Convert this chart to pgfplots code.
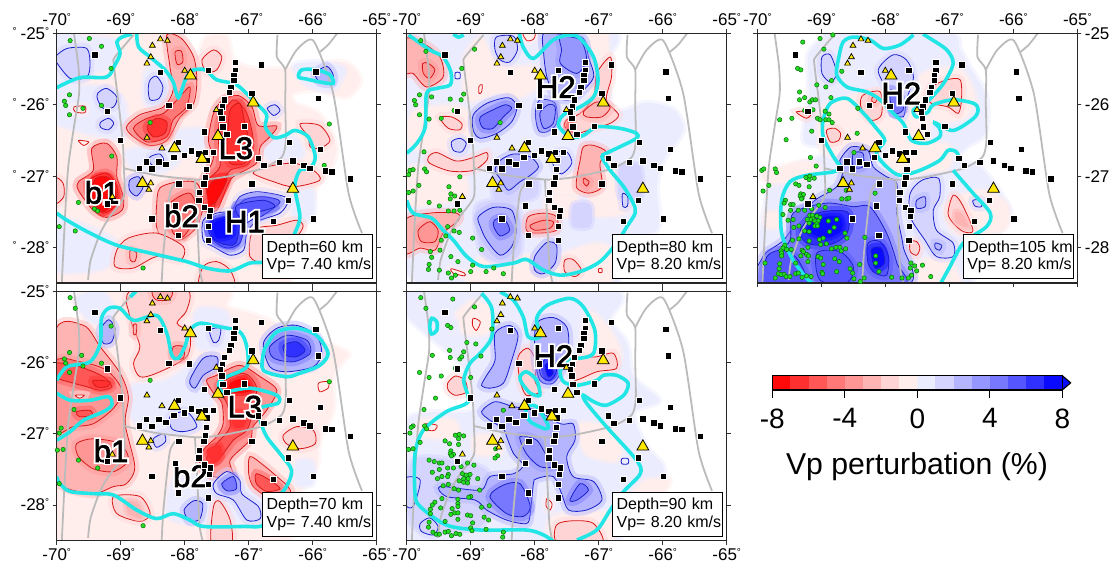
\documentclass[border=0pt]{standalone}
\usepackage{fontspec}
\usepackage{pgfplots}
\pgfplotsset{compat=1.18}
\setmainfont{Liberation Sans}
\newfontface\lblW{Liberation Sans}[FakeBold=14]
\newfontface\lblK{Liberation Sans}[FakeBold=2.2]
\definecolor{R1}{HTML}{FFEEEC}\definecolor{R2}{HTML}{FFD4D4}\definecolor{R3}{HTML}{FFB4B4}\definecolor{R4}{HTML}{FF9696}
\definecolor{R5}{HTML}{FF7878}\definecolor{R6}{HTML}{FF5656}\definecolor{R7}{HTML}{FF3030}\definecolor{R8}{HTML}{FF0A0A}
\definecolor{B1}{HTML}{ECECFF}\definecolor{B2}{HTML}{D4D4FF}\definecolor{B3}{HTML}{B4B4FF}\definecolor{B4}{HTML}{9696FF}
\definecolor{B5}{HTML}{7878FF}\definecolor{B6}{HTML}{5656FF}\definecolor{B7}{HTML}{3030FF}\definecolor{B8}{HTML}{0A0AFF}
\definecolor{conR}{HTML}{D81818}\definecolor{conB}{HTML}{1A22C8}
\definecolor{cyanl}{HTML}{22E6E6}\definecolor{grayl}{HTML}{BBBBBB}
\definecolor{qg}{HTML}{22DD22}\definecolor{qgd}{HTML}{0A6A0A}\definecolor{volc}{HTML}{FFE800}
\newcommand{\tnt}[2]{\addplot[smooth cycle,fill=#1,draw=#1,draw opacity=.5,line width=6pt] coordinates {#2};}
\newcommand{\rdc}[2]{\addplot[smooth cycle,draw=#1,draw opacity=.45,line width=9pt] coordinates {#2};\addplot[smooth cycle,draw=conR,line width=.8pt,fill=#1] coordinates {#2};}
\newcommand{\blc}[2]{\addplot[smooth cycle,draw=#1,draw opacity=.45,line width=9pt] coordinates {#2};\addplot[smooth cycle,draw=conB,line width=.8pt,fill=#1] coordinates {#2};}
\newcommand{\cyo}[1]{\addplot[smooth,draw=cyanl,line width=3.6pt] coordinates {#1};}
\newcommand{\cyc}[1]{\addplot[smooth cycle,draw=cyanl,line width=3.6pt] coordinates {#1};}
\newcommand{\gl}[1]{\addplot[smooth,tension=.4,draw=grayl,line width=1.8pt] coordinates {#1};}
\newcommand{\quakes}[1]{\addplot[only marks,mark=*,mark size=2.2pt,mark options={fill=qg,draw=qgd,line width=.5pt}] coordinates {#1};}
\newcommand{\dg}{\raisebox{5pt}{\fontsize{10pt}{10pt}\selectfont °}}
\newcommand{\commonlayer}{%
\gl{(-69.73,-25)(-69.66,-25.47)(-69.65,-25.84)(-69.73,-26.31)(-69.82,-26.87)(-69.87,-27.57)(-69.92,-28.5)}
\gl{(-68.80,-25.02)(-69.09,-25.33)(-69.11,-25.42)(-69.04,-25.93)(-68.97,-26.50)(-68.95,-26.89)(-68.95,-27.29)(-69.17,-27.57)(-69.32,-27.80)(-69.47,-28.18)(-69.51,-28.46)}
\gl{(-68.95,-26.89)(-68.44,-26.99)(-67.81,-27.05)(-67.5,-27.03)(-67.24,-26.99)(-66.77,-26.89)(-66.48,-26.73)(-66.42,-26.50)(-66.43,-25.98)(-66.43,-25.51)(-66.56,-25.33)(-66.55,-25.02)}
\gl{(-66.43,-25.51)(-66.25,-25.23)(-65.99,-25.10)(-65.68,-25.84)(-65.44,-27.24)(-65.23,-27.80)}
\gl{(-65.89,-25.26)(-65.76,-25.16)(-65.62,-25.0)}
\gl{(-68.09,-27.06)(-68.23,-27.24)(-68.33,-28.04)(-68.36,-28.5)}
\gl{(-67.84,-27.05)(-67.81,-27.52)(-67.77,-28.27)(-67.72,-28.5)}
}
\newcommand{\toplayer}{%
\addplot[only marks,mark=square*,mark size=3.2pt,mark options={fill=black,draw=white,line width=.9pt}] coordinates {
(-69.40,-25.30)(-68.38,-25.55)(-67.63,-25.52)(-66.80,-25.44)(-67.21,-25.41)(-67.21,-25.52)(-67.23,-25.59)(-67.23,-25.66)(-67.28,-25.76)(-67.30,-25.83)(-67.375,-25.93)(-66.95,-25.84)(-65.91,-25.91)(-65.95,-25.54)(-68.245,-26.01)(-67.93,-26.02)(-67.41,-26.03)(-67.44,-26.10)(-67.42,-26.19)(-69.21,-26.09)(-67.40,-26.31)(-67.07,-26.30)(-67.69,-26.38)(-67.34,-26.42)(-69.0,-26.50)(-66.36,-26.53)(-65.875,-26.63)(-68.10,-26.53)(-67.89,-26.65)(-68.0,-26.71)(-67.78,-26.69)(-67.68,-26.67)(-67.55,-26.67)(-68.17,-26.74)(-67.65,-26.78)(-68.29,-26.84)(-68.40,-26.80)(-68.60,-26.80)(-68.51,-26.90)(-68.71,-26.89)(-67.66,-26.91)(-66.85,-26.75)(-66.76,-26.855)(-66.52,-26.81)(-66.31,-26.79)(-66.135,-26.85)(-66.04,-26.89)(-65.80,-26.93)(-65.70,-26.94)(-65.41,-27.04)(-66.95,-27.11)(-68.09,-27.11)(-67.70,-27.11)(-67.68,-27.02)(-67.77,-27.23)(-67.78,-27.34)(-66.375,-27.34)(-69.21,-27.39)(-68.14,-27.42)(-67.69,-27.44)(-67.60,-27.48)(-67.61,-27.57)(-68.51,-27.60)(-65.99,-27.60)(-66.61,-27.64)(-67.625,-27.71)(-68.10,-27.83)(-67.63,-27.90)};
\addplot[only marks,mark=triangle*,mark size=3.4pt,mark options={fill=volc,draw=black,line width=.7pt}] coordinates {
(-68.505,-25.17)(-68.38,-25.08)(-68.27,-25.10)(-68.53,-25.33)(-68.59,-25.42)(-68.0,-25.52)(-67.505,-26.07)(-68.59,-26.46)(-68.355,-26.61)(-68.53,-27.10)(-68.56,-27.19)(-69.13,-27.29)};
\addplot[only marks,mark=triangle*,mark size=6.8pt,mark options={fill=volc,draw=black,line width=.8pt}] coordinates {
(-67.91,-25.59)(-66.93,-25.97)(-67.48,-26.44)(-68.16,-26.61)(-67.73,-26.76)(-68.66,-27.10)(-66.31,-27.18)};
}
\newcommand{\infobox}[2]{\node[draw=black,fill=white,line width=1pt,anchor=south west,inner sep=0pt,minimum width=110pt,minimum height=44pt,align=left,text width=110pt,font=\fontsize{16pt}{17.7pt}\selectfont] at (axis cs:-66.79,-28.45) {\hspace*{4pt}Depth=#1 km\\\hspace*{4pt}Vp= #2 km/s};}
\newcommand{\lab}[2]{\node[text=white,font=\fontsize{31pt}{31pt}\lblW,inner sep=0pt] at (axis cs:#1) {#2};\node[text=black,font=\fontsize{31pt}{31pt}\lblK,inner sep=0pt] at (axis cs:#1) {#2};}
\pgfplotsset{mapax/.style={scale only axis,width=320pt,height=249.5pt,xmin=-70,xmax=-65,ymin=-28.5,ymax=-25,
 xtick={-70,-69,-68,-67,-66,-65},ytick={-28,-27,-26,-25},tick align=outside,major tick length=4pt,
 tick style={black!80,line width=.8pt},axis line style={black!85,line width=1.2pt},axis on top,
 ticklabel style={font=\fontsize{17pt}{17pt}\selectfont},
 xticklabels={-70\dg,-69\dg,-68\dg,-67\dg,-66\dg,-65\dg},
 xticklabel shift=0pt,yticklabel shift=0pt,
 }}
\begin{document}
\begin{tikzpicture}[x=1pt,y=1pt]
\path[use as bounding box] (0,0) rectangle (1115,567);
%% PANEL 1
\begin{axis}[mapax,at={(56.7pt,284pt)},anchor=south west,xticklabel pos=upper,yticklabel pos=left,
 yticklabels={{\dg\hspace{4pt}-28\dg},{\dg\hspace{4pt}-27\dg},{\dg\hspace{4pt}-26\dg},{\dg\hspace{4pt}-25\dg}}]
\tnt{R1}{(-70.2,-24.95)(-68.25,-24.95)(-68.07,-25.19)(-67.81,-25.33)(-67.66,-25.05)(-67.34,-25.05)(-67.24,-25.37)(-66.93,-25.49)(-66.3,-25.49)(-65.52,-25.4)(-65.26,-25.65)(-65.47,-25.89)(-65.94,-25.79)(-66.3,-25.84)(-66.28,-25.98)(-65.89,-26.14)(-65.63,-26.59)(-65.76,-26.96)(-65.94,-27.15)(-66.04,-27.52)(-66.2,-27.8)(-66.56,-28.6)(-69.32,-28.6)(-70.2,-28.3)}
\tnt{B1}{(-70.1,-25.05)(-69.5,-25.05)(-69.1,-25.1)(-69.1,-25.45)(-69.4,-25.55)(-69.75,-25.7)(-70.1,-25.75)}
\tnt{B1}{(-70.1,-25.8)(-69.3,-25.75)(-68.95,-25.95)(-68.95,-26.45)(-69.5,-26.4)(-70.1,-26.2)}
\tnt{B1}{(-68.6,-25.5)(-68.3,-25.45)(-68.25,-25.9)(-68.5,-26.05)(-68.65,-25.9)}
\tnt{B1}{(-68.9,-26.65)(-68.3,-26.6)(-68.1,-26.8)(-68.4,-26.95)(-68.8,-26.9)}
\tnt{B1}{(-68.12,-26.38)(-67.7,-26.35)(-67.68,-26.6)(-68.1,-26.65)}
\tnt{B1}{(-66.7,-26.5)(-66.3,-26.45)(-66.15,-26.7)(-66.5,-26.85)(-66.75,-26.7)}
\tnt{B1}{(-66.3,-27.2)(-66.0,-27.2)(-66.0,-27.6)(-66.3,-27.6)}
\tnt{B1}{(-66.3,-25.45)(-65.9,-25.4)(-65.5,-25.5)(-65.7,-25.8)(-66.1,-25.72)}
\tnt{B1}{(-70.1,-27.6)(-69.4,-27.75)(-69.0,-28.0)(-69.3,-28.3)(-70.1,-28.3)}
\rdc{R4}{(-67.55,-26.12)(-67.4,-25.93)(-67.16,-25.87)(-66.95,-26.03)(-66.85,-26.29)(-66.56,-26.3)(-66.67,-26.45)(-66.82,-26.59)(-66.88,-26.82)(-67.24,-27.01)(-67.34,-27.15)(-67.5,-27.48)(-67.71,-27.48)(-67.76,-27.15)(-67.63,-26.92)(-67.55,-26.73)(-67.63,-26.5)}
\rdc{R2}{(-66.72,-26.87)(-66.3,-26.82)(-65.99,-26.92)(-65.89,-27.06)(-66.3,-27.15)(-66.61,-27.08)(-66.93,-26.96)}
\rdc{R6}{(-67.45,-26.21)(-67.24,-25.93)(-67.03,-26.12)(-66.93,-26.5)(-67.0,-26.82)(-67.29,-26.92)(-67.4,-27.1)(-67.55,-27.43)(-67.68,-27.38)(-67.63,-27.06)(-67.45,-26.87)(-67.47,-26.54)}
\rdc{R7}{(-67.29,-26.07)(-67.14,-25.98)(-67.06,-26.26)(-66.98,-26.59)(-67.06,-26.82)(-67.29,-26.82)(-67.34,-26.59)(-67.32,-26.31)}
\rdc{R8}{(-67.55,-27.06)(-67.34,-27.03)(-67.5,-27.34)(-67.66,-27.43)(-67.66,-27.24)}
\rdc{R2}{(-66.2,-26.27)(-65.89,-26.29)(-65.73,-26.5)(-65.89,-26.61)(-66.04,-26.59)(-66.07,-26.45)}
\rdc{R3}{(-68.28,-25.02)(-68.05,-25.07)(-67.86,-25.33)(-67.81,-25.65)(-67.86,-25.98)(-68.07,-26.17)(-68.28,-26.5)(-68.54,-26.57)(-68.8,-26.45)(-68.91,-26.31)(-68.7,-26.14)(-68.33,-26.03)(-68.18,-25.79)(-68.23,-25.47)}
\rdc{R5}{(-68.12,-25.93)(-67.92,-25.75)(-67.97,-26.03)(-68.18,-26.21)(-68.28,-26.45)(-68.59,-26.52)(-68.8,-26.33)(-68.59,-26.19)(-68.33,-26.12)}
\rdc{R7}{(-68.59,-26.31)(-68.44,-26.19)(-68.28,-26.24)(-68.31,-26.4)(-68.49,-26.45)}
\rdc{R4}{(-68.15,-25.26)(-68.05,-25.25)(-68.03,-25.4)(-68.12,-25.43)}
\rdc{R2}{(-67.55,-25.23)(-67.42,-25.33)(-67.5,-25.51)(-67.66,-25.54)(-67.73,-25.37)}
\rdc{R4}{(-69.45,-26.61)(-69.22,-26.54)(-69.06,-26.73)(-69.06,-27.01)(-68.96,-27.29)(-68.98,-27.48)(-69.22,-27.58)(-69.43,-27.48)(-69.66,-27.2)(-69.66,-27.08)(-69.43,-26.92)}
\rdc{R6}{(-69.5,-27.06)(-69.22,-26.96)(-69.06,-27.15)(-69.06,-27.38)(-69.27,-27.52)(-69.48,-27.29)}
\rdc{R8}{(-69.4,-27.04)(-69.19,-27.02)(-69.07,-27.29)(-69.27,-27.5)(-69.45,-27.29)}
\rdc{R3}{(-68.39,-27.17)(-68.1,-27.08)(-67.81,-27.1)(-67.71,-27.38)(-67.81,-27.71)(-68.07,-27.9)(-68.33,-27.9)(-68.44,-27.71)(-68.44,-27.43)}
\rdc{R5}{(-68.23,-27.38)(-67.92,-27.24)(-67.81,-27.52)(-68.02,-27.85)(-68.18,-27.8)(-68.23,-27.57)}
\rdc{R2}{(-68.88,-27.87)(-68.44,-27.8)(-68.02,-27.99)(-68.07,-28.18)(-68.44,-28.13)(-68.8,-28.29)(-69.09,-28.27)(-69.06,-28.04)}
\rdc{R3}{(-68.85,-28.04)(-68.75,-28.08)(-68.78,-28.2)(-68.85,-28.18)}
\rdc{R2}{(-67.71,-28.27)(-67.5,-28.2)(-67.29,-28.32)(-67.24,-28.55)(-67.76,-28.55)}
\rdc{R2}{(-66.93,-27.76)(-66.56,-27.69)(-66.25,-27.62)(-66.15,-27.71)(-66.3,-27.9)(-66.72,-28.2)(-66.98,-28.13)}
\rdc{R2}{(-70.03,-27.03)(-69.9,-27.1)(-69.89,-27.29)(-70.03,-27.38)}
\rdc{R1}{(-69.66,-26.5)(-69.5,-26.52)(-69.58,-26.57)}
\rdc{R1}{(-69.73,-26.03)(-69.56,-26.02)(-69.56,-26.11)(-69.71,-26.1)}
\blc{B2}{(-67.71,-27.62)(-67.5,-27.52)(-67.27,-27.48)(-67.14,-27.29)(-66.88,-27.22)(-66.51,-27.27)(-66.38,-27.34)(-66.51,-27.52)(-66.88,-27.64)(-67.03,-27.8)(-67.08,-28.04)(-67.29,-28.11)(-67.55,-27.99)(-67.71,-27.9)}
\blc{B5}{(-67.63,-27.66)(-67.29,-27.55)(-67.08,-27.34)(-66.77,-27.29)(-66.51,-27.36)(-66.77,-27.55)(-67.03,-27.66)(-67.14,-27.94)(-67.34,-28.01)(-67.55,-27.9)}
\blc{B7}{(-67.58,-27.64)(-67.34,-27.57)(-67.14,-27.5)(-67.2,-27.94)(-67.45,-27.94)(-67.62,-27.8)}
\tnt{B8}{(-67.55,-27.66)(-67.29,-27.6)(-67.25,-27.82)(-67.5,-27.87)}
\blc{B6}{(-67.19,-27.41)(-66.77,-27.34)(-66.59,-27.43)(-66.93,-27.52)(-67.14,-27.57)}
\blc{B2}{(-70.03,-25.33)(-69.84,-25.21)(-69.53,-25.21)(-69.48,-25.44)(-69.53,-25.61)(-69.79,-25.63)(-70.03,-25.37)}
\blc{B2}{(-69.36,-25.84)(-69.22,-25.77)(-69.06,-25.89)(-69.11,-26.03)(-69.27,-26.05)(-69.36,-25.93)}
\blc{B2}{(-69.32,-26.25)(-69.19,-26.19)(-69.11,-26.26)(-69.19,-26.35)(-69.31,-26.32)}
\blc{B2}{(-68.54,-25.65)(-68.44,-25.6)(-68.34,-25.75)(-68.4,-25.91)(-68.54,-25.93)(-68.57,-25.77)}
\blc{B2}{(-68.54,-26.73)(-68.39,-26.69)(-68.33,-26.78)(-68.46,-26.86)(-68.54,-26.82)}
\blc{B3}{(-68.86,-27.06)(-68.72,-27.01)(-68.65,-27.15)(-68.75,-27.28)(-68.86,-27.2)}
\blc{B2}{(-66.71,-26.05)(-66.59,-26.0)(-66.51,-26.08)(-66.61,-26.15)}
\blc{B3}{(-65.96,-25.56)(-65.78,-25.46)(-65.68,-25.58)(-65.7,-25.7)(-65.89,-25.68)}
\commonlayer
\cyo{(-70,-25.76)(-69.64,-25.62)(-69.22,-25.61)(-69.09,-25.44)(-69.01,-25.28)(-69.06,-25.12)(-68.98,-25.05)(-68.83,-25.01)}
\cyo{(-68.75,-25.0)(-68.72,-25.19)(-68.54,-25.33)(-68.31,-25.51)(-68.18,-25.68)(-68.10,-25.90)(-67.99,-25.65)(-67.89,-25.52)(-67.68,-25.51)(-67.5,-25.65)(-67.19,-25.72)(-66.88,-25.98)(-66.72,-26.14)(-66.74,-26.31)(-66.61,-26.46)(-66.43,-26.43)(-66.28,-26.36)(-66.07,-26.45)(-65.96,-26.73)(-66.04,-26.89)(-66.2,-26.92)(-66.28,-27.15)(-66.2,-27.57)(-66.28,-27.80)(-66.41,-28.04)(-66.72,-28.20)(-66.98,-28.22)(-67.29,-28.33)(-67.66,-28.29)(-67.97,-28.2)(-68.54,-28.08)(-69.06,-27.97)(-69.48,-27.80)(-69.84,-27.62)(-70,-27.52)}
\cyc{(-66.22,-25.61)(-66.17,-25.51)(-65.94,-25.51)(-65.73,-25.58)(-65.68,-25.70)(-65.89,-25.68)(-66.09,-25.64)}
\quakes{(-69.79,-25.10)(-69.49,-25.07)(-69.30,-25.18)(-69.15,-25.49)(-69.80,-25.86)(-69.88,-25.95)(-69.86,-26.01)(-69.80,-26.14)(-69.59,-26.05)(-69.30,-26.01)(-68.54,-26.25)(-69.14,-26.72)(-65.74,-26.27)(-65.82,-26.85)(-69.66,-27.37)(-69.41,-27.46)(-69.36,-27.49)(-69.96,-27.71)(-69.71,-27.77)(-68.65,-28.29)}
\toplayer
\lab{-69.29,-27.23}{b1}\lab{-67.2,-26.61}{L3}\lab{-67.06,-27.64}{H1}\lab{-68.05,-27.56}{b2}
\infobox{60}{7.40}
\end{axis}
%% PANEL 2
\begin{axis}[mapax,at={(406.7pt,284pt)},anchor=south west,xticklabel pos=upper,yticklabels={}]
\tnt{B1}{(-70.1,-24.95)(-66.88,-24.95)(-66.88,-25.4)(-66.82,-26.03)(-66.93,-26.14)(-66.56,-26.07)(-66.25,-25.97)(-65.83,-26.07)(-65.68,-26.36)(-65.99,-26.78)(-66.09,-27.15)(-66.09,-27.76)(-66.77,-27.9)(-66.82,-28.55)(-69.38,-28.55)(-70.1,-28.06)}
\tnt{R1}{(-69.11,-25.37)(-68.85,-25.05)(-68.65,-25.33)(-68.33,-25.47)(-68.02,-25.47)(-67.92,-25.7)(-68.23,-25.89)(-68.59,-25.84)(-69.06,-25.93)}
\tnt{R1}{(-67.6,-28.13)(-67.0,-27.95)(-66.8,-28.1)(-66.85,-28.55)(-67.6,-28.55)}
\tnt{R1}{(-68.85,-28.15)(-67.9,-28.15)(-67.8,-28.55)(-69.0,-28.55)}
\tnt{R1}{(-67.1,-27.25)(-66.6,-27.2)(-66.55,-27.5)(-67.1,-27.55)}
\tnt{R1}{(-67.65,-27.0)(-66.6,-26.95)(-66.5,-27.15)(-67.65,-27.25)}
\tnt{R1}{(-67.8,-27.3)(-67.35,-27.3)(-67.35,-27.55)(-67.8,-27.55)}
\tnt{R1}{(-69.9,-26.1)(-69.1,-26.05)(-69.1,-26.6)(-69.9,-26.6)}
\tnt{R1}{(-70.05,-26.9)(-69.2,-26.9)(-69.1,-27.3)(-70.05,-27.4)}
\tnt{R1}{(-67.15,-24.95)(-66.88,-24.95)(-66.85,-25.8)(-67.1,-26.05)}
\tnt{B2}{(-68.91,-27.43)(-68.44,-27.34)(-68.23,-27.52)(-68.23,-28.08)(-68.54,-28.22)(-68.85,-28.04)}
\tnt{B2}{(-67.4,-27.4)(-67.13,-27.4)(-67.13,-27.7)(-67.4,-27.7)}
\tnt{B2}{(-66.67,-26.87)(-66.35,-26.87)(-66.35,-27.3)(-66.67,-27.3)}
\tnt{B2}{(-68.6,-27.0)(-68,-27.0)(-68,-27.3)(-68.6,-27.35)}
\rdc{R3}{(-70.03,-25.08)(-69.74,-25.14)(-69.48,-25.33)(-69.43,-25.61)(-69.69,-25.75)(-69.9,-25.56)(-70.03,-25.54)}
\rdc{R4}{(-69.75,-25.42)(-69.66,-25.42)(-69.56,-25.51)(-69.64,-25.63)(-69.74,-25.56)}
\rdc{R2}{(-66.82,-25.33)(-66.8,-25.61)(-66.88,-25.93)(-66.69,-26.14)(-66.82,-26.26)(-67.08,-26.33)(-67.34,-26.4)(-67.53,-26.31)(-67.5,-26.21)(-67.29,-26.12)(-67.08,-25.89)(-67.03,-25.56)}
\rdc{R3}{(-67.24,-26.1)(-67.03,-25.96)(-66.82,-26.03)(-66.95,-26.17)(-67.19,-26.17)}
\tnt{R5}{(-67.5,-26.25)(-67.4,-26.22)(-67.4,-26.38)(-67.5,-26.36)}
\rdc{R3}{(-67.24,-26.59)(-67.08,-26.57)(-66.88,-26.66)(-66.98,-26.82)(-66.95,-27.15)(-67.16,-27.24)(-67.34,-27.17)(-67.34,-27.01)(-67.29,-26.78)}
\rdc{R4}{(-67.23,-27.03)(-67.15,-27.08)(-67.19,-27.14)(-67.24,-27.09)}
\rdc{R2}{(-69.66,-26.73)(-69.53,-26.67)(-69.22,-26.79)(-68.93,-26.73)(-68.75,-26.67)(-68.75,-26.78)(-68.96,-26.92)(-69.32,-26.93)(-69.64,-26.82)}
\rdc{R2}{(-69.48,-26.18)(-69.3,-26.17)(-69.14,-26.26)(-69.17,-26.35)(-69.35,-26.33)}
\rdc{R3}{(-70.03,-27.62)(-69.64,-27.52)(-69.22,-27.52)(-69.19,-27.62)(-69.43,-27.8)(-69.56,-28.04)(-69.79,-28.01)(-70.03,-28.08)}
\rdc{R4}{(-69.82,-27.76)(-69.64,-27.64)(-69.51,-27.76)(-69.56,-27.92)(-69.77,-27.92)}
\rdc{R3}{(-68.1,-27.57)(-67.86,-27.52)(-67.66,-27.57)(-67.66,-27.76)(-67.97,-27.8)(-68.13,-27.76)}
\rdc{R4}{(-68.07,-27.69)(-67.86,-27.62)(-67.71,-27.64)(-67.76,-27.73)(-68.0,-27.76)}
\rdc{R2}{(-67.53,-28.18)(-67.4,-28.17)(-67.27,-28.32)(-67.37,-28.41)(-67.53,-28.34)}
\rdc{R1}{(-67.0,-28.3)(-66.95,-28.3)(-66.95,-28.35)(-67.0,-28.35)}
\rdc{R1}{(-69.3,-28.3)(-69.1,-28.36)(-69.1,-28.4)(-69.28,-28.36)}
\rdc{R1}{(-68.87,-25.74)(-68.82,-25.72)(-68.83,-25.82)(-68.87,-25.84)}
\rdc{R1}{(-68.18,-25.0)(-68.0,-25.0)(-68.02,-25.08)(-68.12,-25.1)}
\blc{B3}{(-67.86,-25)(-67.55,-25.02)(-67.24,-25.07)(-67.16,-25.33)(-67.08,-25.61)(-67.29,-25.84)(-67.45,-25.93)(-67.68,-25.89)(-67.81,-25.61)(-67.86,-25.28)}
\blc{B4}{(-67.6,-25.05)(-67.29,-25.09)(-67.19,-25.37)(-67.34,-25.56)(-67.6,-25.42)(-67.58,-25.23)}
\blc{B3}{(-67.99,-26.12)(-67.92,-25.93)(-67.68,-25.98)(-67.66,-26.26)(-67.81,-26.38)(-67.94,-26.36)}
\blc{B4}{(-67.92,-26.12)(-67.79,-26)(-67.68,-26.03)(-67.71,-26.26)(-67.86,-26.33)}
\blc{B2}{(-68.6,-25.05)(-68.33,-25.04)(-68.27,-25.23)(-68.39,-25.4)(-68.54,-25.37)(-68.62,-25.23)}
\blc{B3}{(-68.96,-26.14)(-68.75,-25.98)(-68.41,-25.9)(-68.28,-26.03)(-68.36,-26.24)(-68.59,-26.4)(-68.85,-26.47)(-68.96,-26.36)}
\blc{B5}{(-68.85,-26.17)(-68.65,-26.07)(-68.46,-26)(-68.36,-26.05)(-68.49,-26.17)(-68.65,-26.33)(-68.8,-26.33)(-68.85,-26.26)}
\blc{B2}{(-69.3,-26.52)(-69.17,-26.47)(-69.07,-26.54)(-69.14,-26.66)(-69.27,-26.64)}
\blc{B1}{(-69.24,-25.55)(-69.17,-25.55)(-69.17,-25.63)(-69.24,-25.63)}
\blc{B3}{(-68.54,-26.78)(-68.33,-26.69)(-68.07,-26.73)(-67.94,-26.87)(-68.07,-26.99)(-68.23,-27.08)(-68.41,-27.2)(-68.52,-27.06)(-68.62,-26.92)}
\blc{B2}{(-67.68,-26.68)(-67.5,-26.66)(-67.42,-26.82)(-67.58,-26.97)(-67.71,-26.85)}
\blc{B3}{(-68.88,-27.57)(-68.65,-27.44)(-68.36,-27.48)(-68.29,-27.76)(-68.36,-27.99)(-68.54,-28.11)(-68.75,-27.9)(-68.85,-27.71)}
\blc{B5}{(-68.63,-27.62)(-68.49,-27.59)(-68.39,-27.76)(-68.54,-27.84)(-68.64,-27.71)}
\blc{B3}{(-68,-28.13)(-67.81,-27.93)(-67.66,-27.97)(-67.68,-28.22)(-67.86,-28.37)(-68,-28.32)}
\blc{B2}{(-66.63,-27.25)(-66.55,-27.28)(-66.55,-27.42)(-66.62,-27.43)}
\commonlayer
\cyo{(-69.97,-25.02)(-69.64,-25.23)(-69.43,-25.33)(-69.31,-25.54)(-69.32,-25.72)(-69.53,-25.77)(-69.69,-25.84)(-69.71,-26.31)(-69.84,-26.54)(-70,-26.68)}
\cyo{(-69.27,-25.01)(-69.19,-25.05)(-69.11,-25.02)}
\cyo{(-70,-27.34)(-69.9,-27.52)(-69.61,-27.59)(-69.43,-27.76)(-69.27,-27.9)(-69.06,-28.13)(-68.8,-28.27)(-68.33,-28.22)(-68.13,-28.17)(-67.86,-28.32)(-67.6,-28.39)(-67.29,-28.34)(-66.98,-28.2)(-66.72,-27.94)(-66.56,-27.71)(-66.43,-27.52)(-66.46,-27.38)(-66.61,-27.15)(-66.82,-26.92)(-66.95,-26.73)(-66.88,-26.68)(-66.67,-26.59)(-66.41,-26.47)(-66.41,-26.4)(-66.67,-26.33)(-67.03,-26.31)(-67.24,-26.43)(-67.45,-26.45)(-67.63,-26.29)(-67.55,-26.14)(-67.29,-26.03)(-67.08,-25.89)(-67.01,-25.65)(-67.08,-25.33)(-67.29,-25.07)(-67.45,-25.02)(-67.71,-25.09)(-68.02,-25.35)(-68.18,-25.19)(-68.24,-25)}
\quakes{(-69.78,-25.10)(-69.70,-25.25)(-68.94,-25.22)(-69.14,-25.49)(-69.88,-25.94)(-69.80,-25.86)(-69.86,-26.00)(-69.61,-25.89)(-69.80,-26.14)(-69.65,-26.20)(-69.46,-26.19)(-69.32,-25.92)(-69.15,-25.93)(-69.11,-25.85)(-69.26,-26.08)(-68.54,-26.25)(-69.73,-26.66)(-69.95,-26.92)(-69.90,-26.91)(-69.97,-26.98)(-69.72,-26.90)(-69.69,-26.94)(-69.17,-27.01)(-69.81,-27.13)(-69.34,-27.15)(-69.97,-27.23)(-69.90,-27.21)(-69.31,-27.25)(-69.25,-27.28)(-69.32,-27.32)(-69.65,-27.37)(-69.49,-27.42)(-69.35,-27.49)(-69.26,-27.49)(-69.17,-27.48)(-69.36,-27.71)(-69.26,-27.77)(-69.18,-27.79)(-69.39,-27.84)(-69.46,-27.90)(-68.97,-27.87)(-68.83,-28.03)(-69.48,-28.04)(-69.63,-28.06)(-69.61,-28.14)(-69.65,-28.24)(-69.66,-28.31)(-69.49,-28.32)(-69.35,-28.36)(-69.30,-28.43)(-69.24,-28.39)(-69.0,-28.34)(-68.97,-28.25)(-68.76,-28.34)(-68.64,-28.29)(-68.49,-28.37)(-69.20,-28.20)(-69.31,-28.13)}
\toplayer
\lab{-67.67,-25.75}{H2}
\infobox{80}{8.20}
\end{axis}
%% PANEL 3
\begin{axis}[mapax,at={(757.3pt,284pt)},anchor=south west,xticklabel pos=upper,yticklabel pos=right,yticklabels={-28,-27,-26,-25}]
\tnt{B1}{(-69.2,-25.28)(-68.97,-25.05)(-68.81,-24.98)(-67.04,-24.98)(-66.83,-25.23)(-66.68,-25.47)(-66.42,-25.89)(-66.44,-26.4)(-66.73,-26.59)(-66.89,-26.78)(-66.52,-26.87)(-66.16,-27.29)(-66.05,-27.52)(-66.26,-27.8)(-66.78,-27.8)(-66.78,-28.55)(-69.91,-28.55)(-69.96,-28.18)(-69.96,-27.8)(-69.88,-27.43)(-69.75,-27.01)(-69.33,-26.82)(-69.02,-26.73)(-68.99,-26.59)(-69.28,-26.5)(-69.2,-25.93)(-69.2,-25.56)}
\tnt{R1}{(-69.02,-26.07)(-68.71,-25.93)(-68.08,-25.79)(-67.46,-25.98)(-67.35,-26.5)(-68.03,-26.59)(-68.71,-26.73)(-69.02,-26.59)}
\tnt{R1}{(-69.87,-27.52)(-69.66,-27.52)(-69.67,-27.71)(-69.87,-27.71)}
\tnt{R1}{(-67.48,-28.2)(-67,-28.2)(-66.85,-28.55)(-67.5,-28.55)}
\tnt{R1}{(-67.05,-27.4)(-66.5,-27.2)(-66.1,-27.4)(-66.15,-27.75)(-66.9,-27.8)}
\tnt{R1}{(-67.9,-26.6)(-67.05,-26.55)(-67.05,-26.9)(-67.9,-26.95)}
\tnt{R1}{(-69.9,-26.95)(-69.3,-26.8)(-69.05,-26.85)(-69.1,-27)(-69.8,-27.1)}
\tnt{R1}{(-67.45,-25.6)(-66.85,-25.5)(-66.6,-25.9)(-66.8,-26.2)(-67.4,-26.2)}
\rdc{R2}{(-68.34,-25.86)(-68.08,-25.82)(-68.06,-26.14)(-68.21,-26.22)(-68.34,-26.12)(-68.39,-25.98)}
\rdc{R3}{(-68.2,-25.89)(-68.12,-25.9)(-68.16,-25.97)(-68.21,-25.95)}
\rdc{R2}{(-68.92,-26.36)(-68.79,-26.33)(-68.7,-26.4)(-68.73,-26.5)(-68.86,-26.52)}
\rdc{R2}{(-67.28,-25.75)(-67.04,-25.65)(-66.83,-25.65)(-66.81,-25.93)(-66.86,-26.12)(-67.02,-26.03)(-67.28,-25.98)(-67.35,-25.89)}
\rdc{R2}{(-66.94,-27.27)(-66.81,-27.38)(-66.63,-27.76)(-66.78,-27.78)(-66.94,-27.66)(-67.02,-27.52)}
\tnt{R3}{(-66.9,-27.5)(-66.78,-27.55)(-66.7,-27.72)(-66.9,-27.65)}
\rdc{R2}{(-67.61,-27.92)(-67.51,-27.92)(-67.46,-28.01)(-67.51,-28.11)(-67.61,-28.06)}
\rdc{R2}{(-69.39,-26.1)(-69.15,-26.1)(-69.23,-26.19)}
\blc{B3}{(-68.71,-26.78)(-68.53,-26.59)(-68.27,-26.64)(-68.19,-26.87)(-67.98,-27.01)(-67.82,-27.1)(-67.82,-27.52)(-67.72,-27.99)(-67.69,-28.55)(-69.91,-28.55)(-69.91,-28.13)(-69.59,-27.9)(-69.33,-27.57)(-69.1,-27.34)(-68.76,-27.15)(-68.66,-26.92)}
\blc{B5}{(-69.44,-27.52)(-68.92,-27.38)(-68.5,-27.43)(-68.24,-27.43)(-67.98,-27.8)(-67.82,-28.22)(-67.77,-28.55)(-69.75,-28.55)(-69.75,-28.18)(-69.49,-27.9)}
\blc{B7}{(-69.33,-27.76)(-69.07,-27.52)(-68.6,-27.5)(-68.58,-27.76)(-68.71,-27.9)(-68.92,-27.97)(-69.23,-27.94)}
\tnt{B8}{(-69.23,-27.76)(-69.02,-27.59)(-68.71,-27.57)(-68.68,-27.76)(-68.92,-27.87)}
\blc{B6}{(-68.27,-27.94)(-68.08,-27.92)(-67.95,-28.13)(-67.98,-28.39)(-68.16,-28.36)(-68.27,-28.22)}
\blc{B8}{(-68.22,-28.03)(-68.06,-28.01)(-68.01,-28.22)(-68.16,-28.29)}
\blc{B6}{(-69.85,-28.13)(-69.59,-28.04)(-69.36,-28.18)(-69.23,-28.55)(-69.88,-28.55)}
\blc{B6}{(-69.07,-28.08)(-68.71,-28.06)(-68.5,-28.27)(-68.6,-28.5)(-69.02,-28.46)}
\blc{B2}{(-68.11,-25.51)(-67.88,-25.3)(-67.67,-25.37)(-67.56,-25.61)(-67.67,-25.93)(-67.72,-26.17)(-67.93,-26.07)(-67.98,-25.79)}
\blc{B5}{(-67.93,-25.79)(-67.77,-25.89)(-67.72,-26.07)(-67.88,-26.12)}
\blc{B2}{(-68.99,-25.33)(-68.86,-25.3)(-68.76,-25.56)(-68.86,-25.68)(-68.99,-25.56)}
\blc{B2}{(-67.61,-27.24)(-67.43,-27.06)(-67.17,-27.03)(-67.15,-27.29)(-67.25,-27.48)(-67.2,-27.76)(-66.94,-27.94)(-66.94,-28.13)(-67.2,-28.13)(-67.38,-27.9)(-67.61,-27.57)}
\blc{B3}{(-67.51,-27.34)(-67.38,-27.29)(-67.38,-27.43)(-67.51,-27.45)}
\blc{B3}{(-67.22,-27.94)(-67.12,-27.97)(-67.15,-28.04)(-67.22,-28.01)}
\blc{B2}{(-66.63,-27.34)(-66.5,-27.34)(-66.5,-27.43)(-66.6,-27.42)}
\blc{B4}{(-68.5,-26.68)(-68.35,-26.68)(-68.35,-26.87)(-68.5,-26.87)}
\commonlayer
\cyo{(-67.56,-25.02)(-67.77,-25.16)(-68.03,-25.21)(-68.24,-25.09)(-68.5,-25.05)(-68.66,-25.12)(-68.73,-25.35)(-68.76,-25.58)(-68.6,-25.75)(-68.29,-25.82)(-68.08,-25.93)(-67.9,-26.1)(-67.72,-26.26)(-67.59,-26.5)(-67.35,-26.54)(-67.15,-26.45)(-67.15,-26.33)(-67.23,-26.25)(-66.94,-26.36)(-66.62,-26.19)(-66.55,-26.07)(-66.62,-25.98)(-66.94,-25.93)(-67.25,-26)(-67.33,-26.1)(-67.51,-26.17)(-67.56,-26.07)(-67.35,-25.96)(-67.09,-25.7)(-66.94,-25.42)(-67.04,-25.23)(-67.3,-25.07)(-67.41,-25.01)}
\cyo{(-66.83,-26.78)(-66.89,-26.66)(-67.02,-26.64)(-67.15,-26.78)(-67.46,-26.92)(-67.77,-26.99)(-67.98,-26.87)(-68.14,-26.68)(-68.01,-26.5)(-68.14,-26.33)(-68.34,-26.12)(-68.6,-25.91)(-68.86,-25.98)(-68.97,-26.21)(-68.97,-26.45)(-68.81,-26.73)(-68.71,-26.87)(-68.81,-26.94)(-69.23,-26.99)(-69.49,-27.08)(-69.62,-27.34)(-69.62,-27.8)(-69.44,-28.18)(-69.2,-28.46)(-69.07,-28.53)}
\cyo{(-66.94,-26.92)(-66.63,-27.24)(-66.36,-27.52)(-66.42,-27.71)(-66.78,-27.94)(-66.99,-28.27)(-67.15,-28.53)}
\quakes{(-68.82,-25.02)(-69.02,-25.07)(-69.29,-25.12)(-68.96,-25.22)(-69.37,-25.49)(-69.32,-25.51)(-68.68,-25.53)(-68.84,-25.66)(-68.93,-25.75)(-69.07,-25.72)(-69.34,-25.82)(-69.26,-25.90)(-69.34,-25.93)(-69.18,-25.96)(-69.14,-25.93)(-69.09,-25.93)(-68.85,-25.90)(-69.26,-26.08)(-69.13,-26.07)(-68.88,-26.13)(-68.94,-26.09)(-69.06,-26.19)(-69.02,-26.21)(-68.93,-26.21)(-68.88,-26.21)(-69.65,-26.21)(-69.46,-26.19)(-68.43,-26.05)(-68.83,-26.25)(-69.15,-26.37)(-68.44,-26.40)(-69.55,-26.49)(-69.17,-26.74)(-69.08,-26.86)(-68.49,-26.67)(-69.93,-26.92)(-69.90,-26.90)(-69.72,-26.90)(-69.70,-26.95)(-69.82,-27.13)(-69.91,-27.21)
(-69.40,-27.11)(-69.35,-27.13)(-69.24,-27.02)(-69.19,-27.05)(-69.18,-27.0)(-69.11,-27.03)(-69.19,-27.15)(-68.87,-27.20)(-69.32,-27.25)(-69.28,-27.26)(-69.33,-27.28)(-69.30,-27.31)(-69.31,-27.32)(-69.56,-27.34)(-69.48,-27.40)(-69.44,-27.40)(-69.58,-27.38)(-69.48,-27.48)(-69.60,-27.54)(-69.36,-27.48)(-69.26,-27.48)(-69.15,-27.46)(-69.04,-27.41)(-68.94,-27.44)(-69.18,-27.55)(-69.14,-27.55)(-69.07,-27.56)(-69.02,-27.58)(-69.13,-27.60)(-69.17,-27.61)(-69.10,-27.63)(-69.05,-27.63)(-69.07,-27.67)(-69.10,-27.70)(-69.06,-27.70)(-69.19,-27.66)(-69.22,-27.61)(-69.52,-27.62)(-69.44,-27.61)(-69.43,-27.72)(-69.35,-27.70)(-69.26,-27.77)(-69.19,-27.78)(-68.89,-27.63)(-68.76,-27.61)(-68.80,-27.72)(-68.87,-27.78)(-68.63,-27.80)(-68.97,-27.87)(-69.03,-27.89)(-69.01,-27.96)(-68.92,-27.95)(-68.60,-27.87)(-68.84,-28.02)(-68.77,-28.0)(-68.71,-28.0)(-68.62,-28.02)(-68.69,-28.05)
(-69.35,-27.88)(-69.45,-27.90)(-69.19,-27.91)(-69.57,-27.97)(-69.60,-28.01)(-69.63,-28.05)(-69.54,-28.03)(-69.62,-28.08)(-69.47,-28.03)(-69.30,-28.04)(-69.28,-28.06)(-69.21,-28.0)(-69.23,-28.10)(-69.20,-28.12)(-69.32,-28.12)(-69.62,-28.12)(-69.05,-28.13)(-69.01,-28.15)(-68.79,-28.16)(-68.72,-28.20)(-68.97,-28.24)(-69.40,-28.22)(-69.21,-28.20)(-69.65,-28.23)(-69.88,-28.22)(-69.66,-28.30)(-69.67,-28.37)(-69.63,-28.38)(-69.58,-28.38)(-69.55,-28.41)(-69.49,-28.41)(-69.40,-28.37)(-69.36,-28.36)(-69.30,-28.42)(-69.23,-28.40)(-69.16,-28.41)(-69.72,-28.43)(-68.99,-28.35)(-68.98,-28.37)(-68.76,-28.34)(-68.55,-28.30)(-68.51,-28.36)(-68.40,-28.24)(-68.32,-27.86)(-68.60,-27.32)(-68.68,-27.32)(-68.57,-27.31)(-68.49,-28.44)(-68.39,-28.48)(-68.33,-28.43)(-68.15,-28.12)(-68.15,-28.22)(-68.10,-28.34)(-67.90,-28.42)(-67.74,-28.43)(-68.16,-27.24)(-68.61,-27.20)
(-67.60,-28.22)(-67.54,-28.26)(-67.42,-28.25)(-67.61,-28.29)(-67.51,-28.33)(-67.59,-28.39)(-67.64,-28.43)(-67.29,-28.41)}
\toplayer
\lab{-67.75,-25.84}{H2}
\infobox{105}{8.20}
\end{axis}
%% PANEL 4
\begin{axis}[mapax,at={(56.7pt,26.3pt)},anchor=south west,xticklabel pos=lower,yticklabel pos=left,yticklabels={-28\dg,-27\dg,-26\dg,-25\dg}]
\tnt{R1}{(-70.03,-25.57)(-69.64,-25.59)(-69.61,-25.31)(-69.74,-25.13)(-69.32,-24.98)(-67.4,-24.98)(-67.34,-25.22)(-66.82,-25.36)(-65.52,-25.83)(-65.52,-25.97)(-65.68,-26.2)(-65.68,-26.67)(-65.89,-27.09)(-65.94,-27.46)(-66.2,-27.84)(-66.56,-28.54)(-70.05,-28.54)(-70.1,-27.2)}
\tnt{B1}{(-69.7,-25.1)(-69.3,-25.0)(-69.1,-25.3)(-69.4,-25.45)(-69.6,-25.3)}
\tnt{B1}{(-68.88,-26.34)(-68.28,-26.25)(-67.66,-25.92)(-67.55,-26.29)(-67.66,-26.86)(-68.18,-27)(-68.7,-26.9)(-68.91,-26.62)}
\tnt{B1}{(-67.81,-25.27)(-67.34,-25.31)(-67.34,-25.78)(-67.81,-25.78)}
\tnt{B1}{(-68.18,-27.65)(-67.76,-27.6)(-66.82,-27.84)(-66.77,-28.21)(-68.18,-28.21)}
\tnt{B1}{(-66.25,-27.4)(-66,-27.4)(-66,-27.7)(-66.25,-27.7)}
\rdc{R3}{(-70.03,-25.59)(-69.58,-25.48)(-69.32,-25.78)(-69.01,-26.15)(-68.88,-26.48)(-68.93,-26.86)(-68.78,-27.46)(-68.91,-27.7)(-69.11,-27.74)(-69.43,-27.84)(-69.9,-27.74)(-70.03,-27.46)}
\rdc{R2}{(-69.11,-27.88)(-68.7,-27.88)(-68.54,-28.12)(-68.7,-28.23)(-69.06,-28.12)}
\tnt{R3}{(-68.91,-27.95)(-68.72,-27.98)(-68.67,-28.19)(-68.88,-28.12)}
\rdc{R4}{(-70.03,-26.01)(-69.64,-25.99)(-69.22,-26.11)(-68.98,-26.39)(-69.11,-26.64)(-69.43,-26.86)(-69.74,-26.9)(-70.03,-26.95)}
\rdc{R6}{(-70.03,-26.01)(-69.64,-26.06)(-69.27,-26.2)(-69.14,-26.34)(-69.32,-26.39)(-69.53,-26.34)(-69.74,-26.29)(-70.03,-26.2)}
\rdc{R7}{(-69.43,-26.25)(-69.17,-26.27)(-69.22,-26.34)(-69.38,-26.34)}
\rdc{R6}{(-69.69,-26.69)(-69.48,-26.67)(-69.45,-26.74)(-69.64,-26.76)}
\rdc{R1}{(-69.71,-26.46)(-69.57,-26.46)(-69.64,-26.5)}
\rdc{R4}{(-69.69,-27.14)(-69.43,-27.07)(-69.01,-27.14)(-68.88,-27.37)(-69.11,-27.53)(-69.43,-27.49)(-69.66,-27.32)}
\rdc{R2}{(-68.91,-25.13)(-68.8,-24.98)(-67.97,-24.98)(-67.97,-25.27)(-68.12,-25.45)(-67.92,-25.59)(-67.97,-25.92)(-68.44,-26.15)(-68.7,-26.2)(-68.8,-26.01)(-68.7,-25.78)(-68.83,-25.45)(-68.88,-25.27)}
\rdc{R4}{(-68.18,-25.78)(-68.02,-25.78)(-68.02,-25.94)(-68.18,-25.94)}
\rdc{R3}{(-68.5,-25)(-68.2,-25)(-68.25,-25.12)(-68.45,-25.12)}
\rdc{R3}{(-68.8,-25.47)(-68.75,-25.47)(-68.76,-25.6)(-68.8,-25.6)}
\rdc{R4}{(-67.66,-26.25)(-67.5,-26.18)(-67.14,-26.04)(-66.82,-26.2)(-66.56,-26.39)(-66.72,-26.67)(-66.93,-26.9)(-66.98,-27.09)(-67.29,-27.37)(-67.24,-27.6)(-67.55,-27.6)(-67.76,-27.46)(-67.71,-27.23)(-67.5,-27.04)(-67.4,-26.86)(-67.42,-26.57)(-67.55,-26.43)}
\rdc{R6}{(-67.45,-26.29)(-67.08,-26.15)(-66.88,-26.34)(-66.93,-26.67)(-67.03,-26.95)(-67.24,-27.09)(-67.5,-27.39)(-67.66,-27.35)(-67.5,-27.14)(-67.29,-26.9)(-67.34,-26.57)(-67.45,-26.43)}
\tnt{R8}{(-67.29,-26.29)(-67.06,-26.22)(-66.95,-26.39)(-67.14,-26.43)(-67.29,-26.41)}
\tnt{R7}{(-67.66,-27.23)(-67.45,-27.16)(-67.42,-27.32)(-67.55,-27.42)}
\tnt{R7}{(-67.24,-26.71)(-67.03,-26.71)(-67.08,-26.9)(-67.24,-26.9)}
\rdc{R3}{(-66.98,-27.32)(-66.77,-27.44)(-66.56,-27.6)(-66.35,-27.79)(-66.41,-28.02)(-66.72,-27.88)(-66.93,-27.74)(-67,-27.56)}
\rdc{R6}{(-66.88,-27.56)(-66.67,-27.65)(-66.51,-27.77)(-66.72,-27.81)(-66.88,-27.7)}
\rdc{R2}{(-66.46,-27.02)(-66.25,-26.9)(-65.99,-26.95)(-65.96,-27.14)(-66.2,-27.21)(-66.41,-27.14)}
\rdc{R2}{(-67.55,-28.02)(-67.45,-27.95)(-67.29,-28.21)(-67.27,-28.54)(-67.58,-28.54)}
\rdc{R1}{(-65.91,-26.29)(-65.76,-26.27)(-65.76,-26.36)(-65.89,-26.41)}
\blc{B3}{(-66.77,-25.73)(-66.56,-25.52)(-66.25,-25.48)(-65.94,-25.62)(-65.86,-25.87)(-65.99,-26.06)(-66.41,-26.13)(-66.67,-26.06)}
\blc{B5}{(-66.67,-25.78)(-66.41,-25.62)(-66.09,-25.69)(-66.04,-25.87)(-66.3,-25.99)(-66.61,-25.94)}
\blc{B7}{(-66.46,-25.76)(-66.25,-25.71)(-66.12,-25.83)(-66.25,-25.92)(-66.41,-25.9)}
\blc{B3}{(-69.32,-25.55)(-69.19,-25.4)(-69.09,-25.52)(-69.14,-25.71)(-69.27,-25.73)}
\blc{B3}{(-67.92,-26.25)(-67.71,-25.94)(-67.5,-25.92)(-67.5,-26.06)(-67.71,-26.18)(-67.84,-26.36)}
\blc{B2}{(-67.61,-25.55)(-67.44,-25.52)(-67.47,-25.69)(-67.55,-25.72)}
\blc{B2}{(-68.23,-26.76)(-67.97,-26.69)(-67.81,-26.9)(-68.02,-26.97)(-68.2,-26.93)}
\blc{B2}{(-68.49,-27.07)(-68.33,-27)(-68.3,-27.11)(-68.44,-27.19)}
\blc{B2}{(-67.55,-27.7)(-67.34,-27.53)(-67.14,-27.65)(-67.11,-27.84)(-66.85,-28.02)(-66.82,-28.19)(-67.03,-28.21)(-67.24,-27.93)(-67.5,-27.84)}
\blc{B5}{(-67.42,-27.7)(-67.24,-27.6)(-67.19,-27.77)(-67.34,-27.8)}
\blc{B3}{(-68.01,-28.07)(-67.86,-27.94)(-67.72,-27.98)(-67.76,-28.19)(-67.92,-28.23)}
\commonlayer
\cyo{(-70,-26.25)(-69.84,-26.06)(-69.48,-25.99)(-69.32,-25.73)(-69.3,-25.38)(-69.19,-25.24)(-69.01,-25.24)(-68.8,-25.41)(-68.44,-25.34)(-68.28,-25.59)(-68.2,-25.9)(-68.1,-25.94)(-67.99,-25.76)(-67.92,-25.55)(-67.76,-25.45)(-67.45,-25.5)(-67.14,-25.57)(-67.03,-25.78)(-67.03,-26.06)(-67.34,-26.2)(-67.47,-26.29)(-67.4,-26.41)(-66.98,-26.36)(-66.56,-26.46)(-66.54,-26.57)(-66.82,-26.64)(-66.82,-26.81)(-66.72,-27.04)(-66.51,-27.28)(-66.33,-27.51)(-66.41,-27.74)(-66.61,-27.98)(-66.77,-28.28)(-67.08,-28.3)(-67.71,-28.3)(-67.92,-28.21)(-68.18,-28.12)(-68.44,-28.19)(-68.75,-28.07)(-69.11,-27.86)(-69.43,-27.84)(-69.79,-27.81)(-69.95,-27.7)(-70,-27.6)}
\cyo{(-70,-26.43)(-69.79,-26.53)(-69.48,-26.53)(-69.19,-26.48)(-69.14,-26.6)(-69.27,-26.69)(-69.58,-26.81)(-69.79,-26.97)(-70,-27.09)}
\cyc{(-66.72,-25.76)(-66.56,-25.57)(-66.25,-25.52)(-65.94,-25.62)(-65.76,-25.87)(-65.89,-26.04)(-66.2,-26.15)(-66.41,-26.2)(-66.77,-26.11)(-66.77,-25.87)}
\cyo{(-68.85,-25.08)(-68.76,-25)}
\quakes{(-69.79,-25.09)(-69.71,-25.24)(-69.15,-25.49)(-69.80,-25.86)(-69.61,-25.90)(-69.88,-25.95)(-69.86,-26.01)(-69.59,-26.05)(-69.8,-26.14)(-69.30,-26.01)(-68.54,-26.25)(-69.73,-26.66)(-65.74,-26.27)(-69.93,-26.92)(-69.96,-26.99)(-69.99,-27.23)(-69.90,-27.22)(-69.66,-27.37)(-69.36,-27.48)(-69.96,-27.70)(-68.65,-28.29)}
\toplayer
\lab{-69.15,-27.24}{b1}\lab{-67.06,-26.62}{L3}\lab{-67.91,-27.59}{b2}
\infobox{70}{7.40}
\end{axis}
%% PANEL 5
\begin{axis}[mapax,at={(406.7pt,26.3pt)},anchor=south west,xticklabel pos=lower,yticklabels={}]
\tnt{B1}{(-70.03,-24.98)(-66.82,-24.98)(-66.82,-25.41)(-66.56,-25.73)(-66.46,-26.2)(-66.09,-26.48)(-66.09,-26.57)(-66.46,-26.71)(-66.25,-27.18)(-65.99,-27.46)(-66.04,-27.84)(-66.77,-27.84)(-66.82,-28.54)(-70.03,-28.54)(-70.03,-26.95)(-69.74,-26.71)(-69.01,-26.69)(-68.96,-26.43)(-69.17,-26.01)(-69.64,-25.64)(-70.03,-25.31)}
\tnt{R1}{(-69.22,-25.31)(-68.96,-25.13)(-68.67,-25.27)(-68.75,-25.59)(-69.11,-25.59)(-69.17,-25.41)}
\tnt{R1}{(-69.79,-26.81)(-69.27,-26.81)(-69.22,-27.04)(-69.74,-27.04)}
\tnt{R1}{(-68.96,-27.04)(-68.59,-27.04)(-68.54,-27.28)(-68.91,-27.28)}
\tnt{R1}{(-67.29,-26.86)(-66.77,-26.95)(-66.67,-27.37)(-67.19,-27.28)}
\tnt{R1}{(-66.25,-27.65)(-65.89,-27.65)(-66.04,-27.84)(-66.46,-27.84)}
\tnt{R1}{(-67.19,-25.31)(-66.82,-25.55)(-66.67,-25.97)(-67.29,-26.25)}
\tnt{R1}{(-67.71,-28.16)(-66.82,-28.12)(-66.82,-28.54)(-67.71,-28.54)}
\tnt{B2}{(-69.9,-27.37)(-68.85,-27.46)(-68.7,-27.74)(-68.85,-28.3)(-69.9,-28.3)}
\rdc{R2}{(-69.36,-26.29)(-69.24,-26.19)(-69.09,-26.25)(-69.06,-26.41)(-69.24,-26.46)(-69.35,-26.39)}
\rdc{R1}{(-68.96,-25.38)(-68.85,-25.43)(-68.91,-25.55)(-68.97,-25.48)}
\rdc{R1}{(-69.71,-26.86)(-69.53,-26.88)(-69.56,-26.95)(-69.66,-26.95)}
\rdc{R2}{(-68.26,-25.92)(-68.1,-25.8)(-67.97,-26.01)(-68,-26.25)(-67.92,-26.41)(-68.13,-26.46)(-68.23,-26.25)}
\rdc{R2}{(-67.34,-25.94)(-67.03,-25.92)(-66.77,-25.87)(-66.72,-26.08)(-67.03,-26.13)(-67.37,-26.25)(-67.42,-26.11)}
\rdc{R2}{(-67.66,-28.28)(-67.4,-28.22)(-67.08,-28.26)(-66.95,-28.54)(-67.63,-28.54)}
\rdc{R1}{(-67.81,-27.91)(-67.73,-27.98)(-67.76,-28.07)(-67.82,-28.02)}
\blc{B3}{(-68.62,-25.59)(-68.39,-25.48)(-68.26,-25.62)(-68.36,-25.97)(-68.49,-26.29)(-68.7,-26.36)(-68.83,-26.32)(-68.75,-26.18)(-68.62,-25.97)}
\blc{B3}{(-67.97,-25.45)(-67.71,-25.37)(-67.5,-25.5)(-67.47,-25.78)(-67.55,-26.06)(-67.71,-26.29)(-67.92,-26.25)(-68,-25.87)}
\blc{B5}{(-67.92,-26.06)(-67.76,-25.9)(-67.66,-26.11)(-67.76,-26.25)(-67.89,-26.2)}
\blc{B8}{(-67.84,-26.04)(-67.76,-26.01)(-67.71,-26.15)(-67.79,-26.2)}
\blc{B3}{(-68.83,-26.69)(-68.62,-26.55)(-68.33,-26.62)(-67.97,-26.67)(-67.6,-26.86)(-67.4,-26.86)(-67.37,-27.09)(-67.5,-27.32)(-67.4,-27.6)(-67.08,-27.67)(-66.95,-27.93)(-67.19,-28.07)(-67.47,-28.07)(-67.58,-27.84)(-67.71,-27.6)(-67.97,-27.63)(-68.02,-27.7)(-68.07,-28.12)(-68.13,-28.26)(-68.44,-28.21)(-68.75,-28.07)(-68.93,-27.93)(-69.38,-27.88)(-69.48,-27.74)(-68.85,-27.79)(-68.7,-27.6)(-68.33,-27.56)(-68.18,-27.44)(-68.33,-27.28)(-68.44,-27.04)(-68.49,-26.93)(-68.7,-26.81)}
\blc{B4}{(-68.23,-27.04)(-67.97,-27.09)(-67.81,-27.32)(-67.71,-27.46)(-67.92,-27.46)(-68.13,-27.28)}
\blc{B5}{(-68.7,-27.88)(-68.49,-27.72)(-68.23,-27.7)(-68.07,-28.02)(-68.18,-28.16)(-68.44,-28.12)}
\blc{B5}{(-67.45,-27.93)(-67.29,-27.7)(-67.16,-27.79)(-67.34,-27.93)}
\blc{B1}{(-66.64,-27.35)(-66.54,-27.35)(-66.54,-27.42)(-66.64,-27.42)}
\blc{B2}{(-70.03,-27.63)(-69.79,-27.65)(-69.9,-28.02)(-70.03,-27.98)}
\blc{B2}{(-69.79,-28.26)(-69.64,-28.18)(-69.51,-28.3)(-69.58,-28.42)(-69.77,-28.37)}
\commonlayer
\cyo{(-68.83,-25.03)(-68.67,-25.24)(-68.67,-25.64)(-68.85,-25.87)(-69.01,-26.01)(-69.11,-26.25)(-69.04,-26.55)(-69.38,-26.69)(-69.74,-26.95)(-69.87,-27.28)(-69.87,-27.84)(-69.79,-28.02)(-69.38,-28.28)(-68.85,-28.35)(-68.13,-28.35)(-67.86,-28.42)(-67.71,-28.51)}
\cyo{(-68.54,-25.01)(-68.33,-25.13)(-68.18,-25.36)(-68.1,-25.64)(-67.92,-25.64)(-67.97,-25.38)(-67.81,-25.2)(-67.45,-25.1)(-67.24,-25.22)(-67.06,-25.55)(-67.08,-25.87)(-67.29,-25.94)(-67.45,-25.94)(-67.6,-26.11)(-67.55,-26.27)(-67.34,-26.32)(-67.03,-26.25)(-66.93,-26.18)(-66.72,-26.18)(-66.54,-26.29)(-66.61,-26.46)(-66.88,-26.6)(-67.08,-26.55)(-67.24,-26.46)(-67.19,-26.57)(-66.88,-26.9)(-66.41,-27.37)(-66.35,-27.56)(-66.61,-27.81)(-66.82,-28.07)(-67.03,-28.35)(-67.34,-28.49)}
\cyc{(-68.23,-26.2)(-68.13,-26.13)(-67.97,-26.25)(-67.92,-26.46)(-68.07,-26.43)(-68.2,-26.29)}
\cyc{(-68.13,-26.62)(-67.97,-26.62)(-67.79,-26.88)(-67.84,-26.93)(-68.07,-26.83)(-68.13,-26.71)}
\cyc{(-69.61,-25.38)(-69.53,-25.43)(-69.53,-25.55)(-69.61,-25.6)(-69.64,-25.5)}
\quakes{(-69.78,-25.09)(-69.28,-25.11)(-69.70,-25.24)(-68.94,-25.22)(-69.36,-25.48)(-69.31,-25.51)(-68.67,-25.53)(-69.06,-25.72)(-68.92,-25.74)(-69.33,-25.83)(-69.11,-25.85)(-69.60,-25.90)(-69.32,-25.93)(-69.17,-25.95)(-69.14,-25.92)(-68.84,-25.91)(-69.24,-26.08)(-69.80,-26.14)(-69.65,-26.21)(-69.46,-26.19)(-69.0,-26.21)(-69.55,-26.50)(-68.49,-26.67)(-69.73,-26.66)(-69.90,-26.89)(-69.93,-26.91)(-69.95,-26.99)(-69.72,-26.89)(-69.69,-26.93)(-69.79,-27.12)(-69.97,-27.22)(-69.90,-27.21)(-69.24,-27.02)(-69.18,-27.01)(-69.11,-27.03)(-69.19,-27.07)(-69.40,-27.10)(-69.33,-27.14)(-69.19,-27.15)(-68.61,-27.21)(-68.58,-27.31)(-68.62,-27.34)(-69.31,-27.24)(-69.32,-27.28)(-69.27,-27.29)(-69.30,-27.31)(-69.65,-27.37)(-69.57,-27.39)(-69.49,-27.41)(-69.45,-27.41)(-69.05,-27.41)(-68.95,-27.44)(-69.49,-27.50)(-69.36,-27.48)(-69.27,-27.48)(-69.15,-27.46)(-69.60,-27.54)(-69.35,-27.57)(-69.13,-27.56)(-69.07,-27.58)(-69.01,-27.57)(-69.52,-27.63)(-69.45,-27.60)(-69.36,-27.60)(-69.11,-27.63)(-69.04,-27.63)(-68.89,-27.63)(-69.18,-27.66)(-69.11,-27.68)(-69.05,-27.69)(-69.43,-27.73)(-69.35,-27.71)(-69.26,-27.77)(-69.19,-27.79)(-68.86,-27.79)(-69.45,-27.91)(-69.0,-27.88)(-69.03,-27.89)(-69.56,-27.96)(-69.20,-27.92)(-69.20,-27.98)(-69.60,-28.0)(-69.63,-28.06)(-69.47,-28.04)(-69.29,-28.05)(-69.20,-28.02)(-68.83,-28.03)(-68.71,-28.01)(-69.25,-28.11)(-69.20,-28.11)(-69.31,-28.13)(-69.05,-28.14)(-69.0,-28.15)(-69.63,-28.12)(-69.20,-28.20)(-68.79,-28.17)(-68.72,-28.21)(-69.40,-28.23)(-69.65,-28.24)(-68.97,-28.25)(-69.66,-28.31)(-69.0,-28.32)(-68.98,-28.36)(-68.76,-28.34)(-69.59,-28.38)(-69.54,-28.41)(-69.49,-28.41)(-69.40,-28.38)(-69.35,-28.37)(-69.30,-28.43)(-69.23,-28.40)(-69.17,-28.41)(-68.49,-28.38)(-68.50,-28.45)}
\toplayer
\lab{-67.71,-25.91}{H2}
\infobox{90}{8.20}
\end{axis}
%% COLOUR BAR
\begin{axis}[scale only axis,width=290pt,height=14.3pt,at={(772.3pt,177pt)},anchor=south west,xmin=-8,xmax=8,ymin=0,ymax=1,
 xtick={-8,-4,0,4,8},ytick=\empty,xtick pos=lower,xticklabel pos=lower,tick align=outside,major tick length=8pt,tick style={black,line width=.9pt},
 xticklabels={-8,-4,0,4,8},ticklabel style={font=\fontsize{28pt}{28pt}\selectfont},clip=false,axis on top,
 axis line style={line width=1.3pt},xticklabel shift=7pt]
\addplot[fill=B8,draw=black,line width=1.1pt] coordinates {(8,0)(8.46,0.5)(8,1)} -- cycle;
\addplot[fill=R8,draw=none] coordinates {(-8,0)(-7,0)(-7,1)(-8,1)} -- cycle;
\addplot[fill=R7,draw=none] coordinates {(-7,0)(-6,0)(-6,1)(-7,1)} -- cycle;
\addplot[fill=R6,draw=none] coordinates {(-6,0)(-5,0)(-5,1)(-6,1)} -- cycle;
\addplot[fill=R5,draw=none] coordinates {(-5,0)(-4,0)(-4,1)(-5,1)} -- cycle;
\addplot[fill=R4,draw=none] coordinates {(-4,0)(-3,0)(-3,1)(-4,1)} -- cycle;
\addplot[fill=R3,draw=none] coordinates {(-3,0)(-2,0)(-2,1)(-3,1)} -- cycle;
\addplot[fill=R2,draw=none] coordinates {(-2,0)(-1,0)(-1,1)(-2,1)} -- cycle;
\addplot[fill=R1,draw=none] coordinates {(-1,0)(0,0)(0,1)(-1,1)} -- cycle;
\addplot[fill=B1,draw=none] coordinates {(0,0)(1,0)(1,1)(0,1)} -- cycle;
\addplot[fill=B2,draw=none] coordinates {(1,0)(2,0)(2,1)(1,1)} -- cycle;
\addplot[fill=B3,draw=none] coordinates {(2,0)(3,0)(3,1)(2,1)} -- cycle;
\addplot[fill=B4,draw=none] coordinates {(3,0)(4,0)(4,1)(3,1)} -- cycle;
\addplot[fill=B5,draw=none] coordinates {(4,0)(5,0)(5,1)(4,1)} -- cycle;
\addplot[fill=B6,draw=none] coordinates {(5,0)(6,0)(6,1)(5,1)} -- cycle;
\addplot[fill=B7,draw=none] coordinates {(6,0)(7,0)(7,1)(6,1)} -- cycle;
\addplot[fill=B8,draw=none] coordinates {(7,0)(8,0)(8,1)(7,1)} -- cycle;
\end{axis}
\node[font=\fontsize{30.2pt}{30pt}\selectfont,inner sep=0pt] at (917,100.5) {Vp perturbation (\%)};
\end{tikzpicture}
\end{document}
